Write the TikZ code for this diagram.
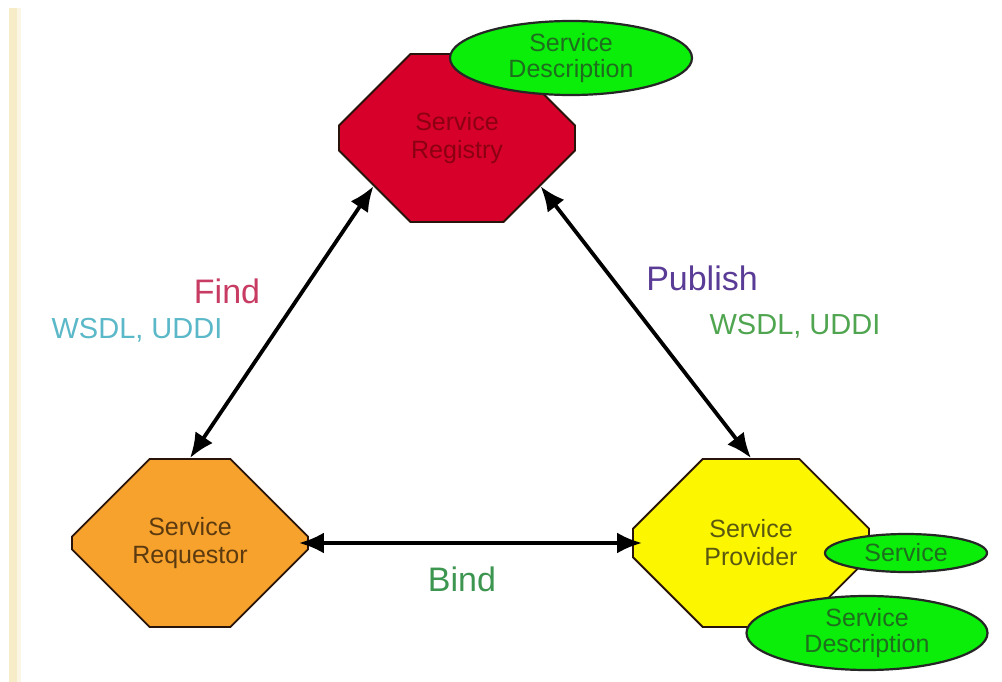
\documentclass[tikz,border=0pt]{standalone}
\usepackage{fontspec}
\setmainfont{Liberation Sans}
\usetikzlibrary{shapes.misc,shapes.geometric,arrows.meta,calc}
\definecolor{regred}{RGB}{214,0,42}
\definecolor{regtext}{RGB}{140,0,20}
\definecolor{reqorange}{RGB}{246,162,44}
\definecolor{reqtext}{RGB}{92,58,16}
\definecolor{provyellow}{RGB}{252,246,0}
\definecolor{provtext}{RGB}{90,88,16}
\definecolor{octline}{RGB}{40,20,10}
\definecolor{lgreen}{RGB}{10,238,10}
\definecolor{dgreen}{RGB}{30,110,30}
\definecolor{findcol}{RGB}{200,60,100}
\definecolor{wsdlcyan}{RGB}{90,184,200}
\definecolor{pubcol}{RGB}{90,60,150}
\definecolor{wsdlgreen}{RGB}{80,165,80}
\definecolor{bindcol}{RGB}{60,150,80}
\definecolor{beige}{RGB}{246,236,200}
\begin{document}
\begin{tikzpicture}[x=1pt,y=-1pt,
  octo/.style={chamfered rectangle, chamfered rectangle xsep=70pt,
    chamfered rectangle ysep=52pt, minimum width=236pt, minimum height=168pt,
    inner sep=0pt, draw=octline, line width=1.8pt, align=center,
    font=\fontsize{25}{28}\selectfont},
  blob/.style={ellipse, draw=black!85, line width=2.2pt, fill=lgreen,
    inner sep=0pt, align=center, text=dgreen, font=\fontsize{25}{26}\selectfont},
  link/.style={line width=3.8pt, {Latex[length=25pt,width=21pt]}-{Latex[length=25pt,width=21pt]}},
  verb/.style={font=\fontsize{34}{36}\selectfont},
  proto/.style={font=\fontsize{29}{31}\selectfont}
]
\useasboundingbox (0,0) rectangle (1002,682);
\fill[white] (0,0) rectangle (1002,682);
% thin beige rule along the left margin
\fill[beige] (9,8) rectangle (17,682);
\fill[beige!50] (17,8) rectangle (21,682);

% the three roles
\node[octo, fill=regred, text=regtext] (reg) at (457,138) {Service\\Registry};
\node[octo, fill=reqorange, text=reqtext] (req) at (190,543) {Service\\Requestor};
\node[octo, fill=provyellow, text=provtext] (prov) at (751,543) {Service\\Provider};

% descriptions and service attached to the roles
\node[blob, minimum width=242pt, minimum height=74pt] (regdesc) at (571,58) {Service\\Description};
\node[blob, minimum width=162pt, minimum height=38pt] (svc) at (906,553) {Service};
\node[blob, minimum width=241pt, minimum height=74pt] (provdesc) at (867,633) {Service\\Description};

% interactions
\draw[link] (req.north) -- (reg.-150);
\draw[link] (prov.north) -- (reg.-30);
\draw[link, shorten <=-10pt, shorten >=-10pt] (req.east) -- (prov.west);

% labels
\node[verb, text=findcol] (find) at (227,291) {Find};
\node[proto, text=wsdlcyan] (wsdlf) at (137,330) {WSDL, UDDI};
\node[verb, text=pubcol] (pub) at (702,278) {Publish};
\node[proto, text=wsdlgreen] (wsdlp) at (795,326) {WSDL, UDDI};
\node[verb, text=bindcol] (bind) at (462,579) {Bind};
\end{tikzpicture}
\end{document}
